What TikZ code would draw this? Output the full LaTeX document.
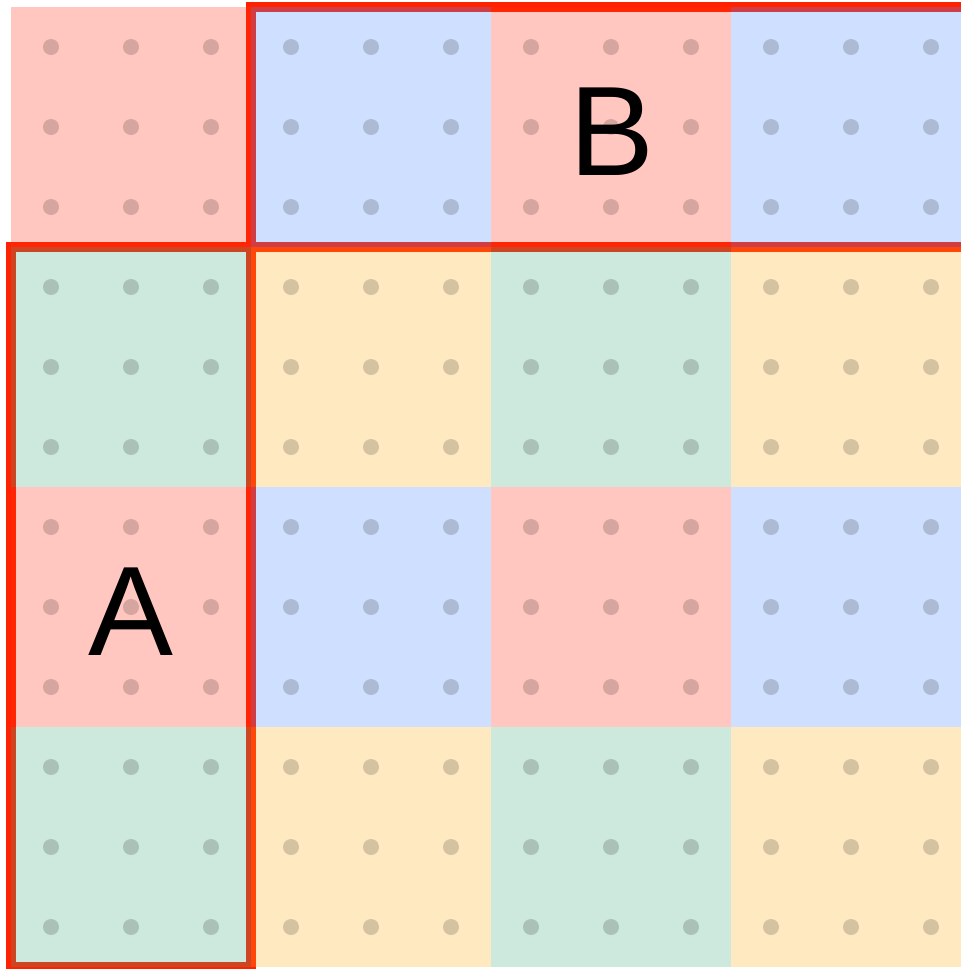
\documentclass[tikz,border=0pt]{standalone}
\usepackage{fontspec}
\setmainfont{Liberation Sans}

\definecolor{cellred}{RGB}{255,48,19}
\definecolor{cellblue}{RGB}{78,137,255}
\definecolor{cellgreen}{RGB}{70,170,130}
\definecolor{cellyellow}{RGB}{255,174,26}
\definecolor{framered}{RGB}{255,34,0}

\tikzset{
    cell/.style={fill opacity=0.27},
    pin/.style={fill=black,fill opacity=0.17},
    frame/.style={draw=framered,line width=2.36pt},
    letter/.style={font=\fontsize{30.2}{30.2}\selectfont,inner sep=0pt}
}

\begin{document}
\begin{tikzpicture}[x=2cm,y=-2cm]
    \clip (-0.0458,-0.0292) rectangle (3.9583,4.0083);

    % the two frames sit under the cells
    \draw[frame] (1,0) rectangle (4.3,1);
    \draw[frame] (0,1) rectangle (1,4);

    \foreach \r/\ca/\cb in {0/cellred/cellblue,1/cellgreen/cellyellow,2/cellred/cellblue,3/cellgreen/cellyellow}{
        \foreach \c in {0,2}{
            \fill[cell,fill=\ca] (\c,\r) rectangle ++(1,1);
        }
        \foreach \c in {1,3}{
            \fill[cell,fill=\cb] (\c,\r) rectangle ++(1,1);
        }
    }

    \foreach \x in {0,...,11}{
        \foreach \y in {0,...,11}{
            \fill[pin] ({\x/3+1/6},{\y/3+1/6}) circle (1.9pt);
        }
    }

    \node[letter] (labB) at (2.504,0.521) {B};
    \node[letter] (labA) at (0.5,2.521) {A};
\end{tikzpicture}
\end{document}
